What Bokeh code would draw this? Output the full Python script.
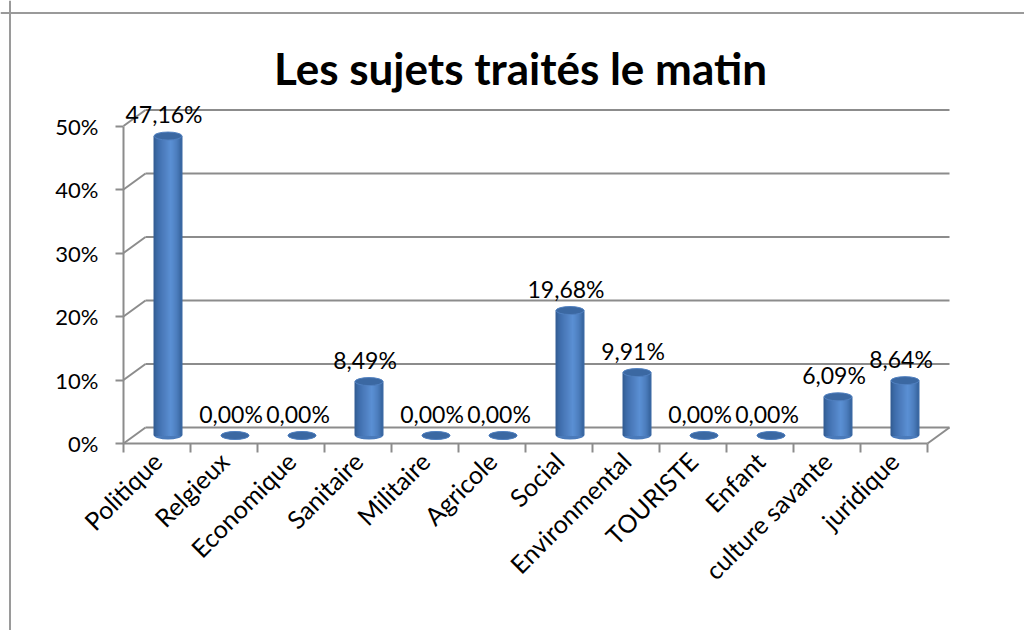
import math
from bokeh.plotting import figure
from bokeh.models import ColumnDataSource, Range1d, LinearAxis, FixedTicker, Span, Label
from bokeh.embed import file_html
from bokeh.resources import INLINE
from bokeh.core.properties import value

# ---------------- data ----------------
title_text = "Les sujets traités le matin"
categories = ["Politique", "Relgieux", "Economique", "Sanitaire", "Militaire", "Agricole",
              "Social", "Environmental", "TOURISTE", "Enfant", "culture savante", "juridique"]
percentages = [47.16, 0.00, 0.00, 8.49, 0.00, 0.00, 19.68, 9.91, 0.00, 0.00, 6.09, 8.64]
y_ticks = [0, 10, 20, 30, 40, 50]
y_tick_labels = ["0%", "10%", "20%", "30%", "40%", "50%"]

# ---------------- layout constants (pixels) ----------------
W, H = 1024, 630
PX_X = 67.0          # pixels per category
PX_Y = 6.35          # pixels per percent
ORIGIN_X = 123       # canvas x of the front-left corner of the floor
ORIGIN_Y = 443       # canvas y of the 0% front line
DEPTH_X_PX, DEPTH_Y_PX = 22, 16
CYL_W_PX = 28
ELL_H_PX = 8
FONT = "Lato"
GRID = "#8c8c8c"

x_start = -ORIGIN_X / PX_X
x_end = x_start + W / PX_X
y_end = ORIGIN_Y / PX_Y
y_start = y_end - H / PX_Y
dx = DEPTH_X_PX / PX_X
dy = DEPTH_Y_PX / PX_Y
n = len(categories)
cyl_w = CYL_W_PX / PX_X

p = figure(width=W, height=H, x_range=Range1d(x_start, x_end), y_range=Range1d(y_start, y_end),
           output_backend="svg", toolbar_location=None, min_border=0,
           x_axis_type=None, y_axis_type=None)
p.outline_line_color = None
p.background_fill_color = "white"
p.border_fill_color = "white"

# chart-area frame (top and left edges visible)
p.add_layout(Span(location=x_start + 9.5 / PX_X, dimension="height", line_color="#9a9a9a", line_width=2))
p.add_layout(Span(location=y_end - 12.5 / PX_Y, dimension="width", line_color="#9a9a9a", line_width=2))

# ---------------- 3D walls ----------------
back = ColumnDataSource(dict(x0=[dx] * len(y_ticks), x1=[n + dx] * len(y_ticks),
                             y=[t + dy for t in y_ticks]))
p.segment(x0="x0", y0="y", x1="x1", y1="y", source=back, line_color=GRID, line_width=2)
side = ColumnDataSource(dict(x0=[0] * len(y_ticks), y0=y_ticks, x1=[dx] * len(y_ticks),
                             y1=[t + dy for t in y_ticks]))
p.segment(x0="x0", y0="y0", x1="x1", y1="y1", source=side, line_color=GRID, line_width=2)
p.segment(x0=[n], y0=[0], x1=[n + dx], y1=[dy], line_color=GRID, line_width=2)
# category tick marks at boundaries
bounds_x = list(range(n + 1))
p.segment(x0=bounds_x, y0=[0] * (n + 1), x1=bounds_x, y1=[-9 / PX_Y] * (n + 1),
          line_color=GRID, line_width=2)

# ---------------- axes ----------------
yaxis = LinearAxis(fixed_location=0, ticker=FixedTicker(ticks=y_ticks), bounds=(0, max(y_ticks)))
yaxis.major_label_overrides = {t: lab for t, lab in zip(y_ticks, y_tick_labels)}
yaxis.axis_line_color = GRID
yaxis.axis_line_width = 2
yaxis.major_tick_line_color = GRID
yaxis.major_tick_line_width = 2
yaxis.major_tick_out = 8
yaxis.major_tick_in = 0
yaxis.minor_tick_line_color = None
yaxis.major_label_text_font = FONT
yaxis.major_label_text_font_size = "22px"
yaxis.major_label_text_color = "black"
yaxis.major_label_standoff = 17
p.add_layout(yaxis, "left")

xaxis = LinearAxis(fixed_location=0, ticker=FixedTicker(ticks=[i + 0.5 for i in range(n)]),
                   bounds=(0, n))
xaxis.major_label_overrides = {i + 0.5: c for i, c in enumerate(categories)}
xaxis.major_label_orientation = math.pi / 4
xaxis.axis_line_color = GRID
xaxis.axis_line_width = 2
xaxis.major_tick_line_color = None
xaxis.major_tick_out = 0
xaxis.major_tick_in = 0
xaxis.minor_tick_line_color = None
xaxis.major_label_text_font = FONT
xaxis.major_label_text_font_size = "25px"
xaxis.major_label_text_color = "black"
xaxis.major_label_standoff = 13
p.add_layout(xaxis, "below")

# ---------------- cylinders ----------------
def shade(t):
    stops = [(0.0, (0x30, 0x5a, 0x90)), (0.15, (0x3f, 0x6d, 0xab)), (0.62, (0x5c, 0x90, 0xd4)),
             (0.85, (0x4a, 0x7b, 0xbb)), (1.0, (0x36, 0x62, 0x9c))]
    for (t0, c0), (t1, c1) in zip(stops[:-1], stops[1:]):
        if t0 <= t <= t1:
            f = (t - t0) / (t1 - t0)
            return "#%02x%02x%02x" % tuple(int(round(a + (b - a) * f)) for a, b in zip(c0, c1))
    return "#4f81bd"

N_STRIPS = 14
centers = [i + 0.5 + dx / 2 for i in range(n)]
base = dy / 2
sx, stop, sbot, scol = [], [], [], []
for xc, v in zip(centers, percentages):
    for k in range(N_STRIPS):
        t = (k + 0.5) / N_STRIPS
        sx.append(xc - cyl_w / 2 + t * cyl_w)
        sbot.append(base)
        stop.append(base + v)
        scol.append(shade(t))
strips = ColumnDataSource(dict(x=sx, top=stop, bottom=sbot, color=scol))

cyl = ColumnDataSource(dict(x=centers, base=[base] * n, top=[base + v for v in percentages]))
p.ellipse(x="x", y="base", width=cyl_w, height=ELL_H_PX, height_units="screen", source=cyl,
          fill_color="#4a7aba", line_color=None)
p.vbar(x="x", top="top", bottom="bottom", width=cyl_w / N_STRIPS, source=strips,
       fill_color="color", line_color="color", line_width=1)
p.ellipse(x="x", y="top", width=cyl_w, height=ELL_H_PX, height_units="screen", source=cyl,
          fill_color="#3b68a2", line_color="#5080c0", line_width=1)

# ---------------- value labels ----------------
lab_src = ColumnDataSource(dict(x=[i + 0.5 for i in range(n)], y=percentages,
                                text=[("%.2f%%" % v).replace(".", ",") for v in percentages]))
p.text(x="x", y="y", text="text", source=lab_src, x_offset=7, y_offset=-30,
       text_align="center", text_baseline="middle", text_font=value(FONT),
       text_font_size="23px", text_color="black")

# ---------------- title ----------------
p.add_layout(Label(x=x_start + 520 / PX_X, y=y_end - 67 / PX_Y, text=title_text,
                   text_align="center", text_baseline="alphabetic", text_font=FONT,
                   text_font_size="44px", text_font_style="bold", text_color="black"))

open("out.html", "w").write(file_html(p, INLINE))
